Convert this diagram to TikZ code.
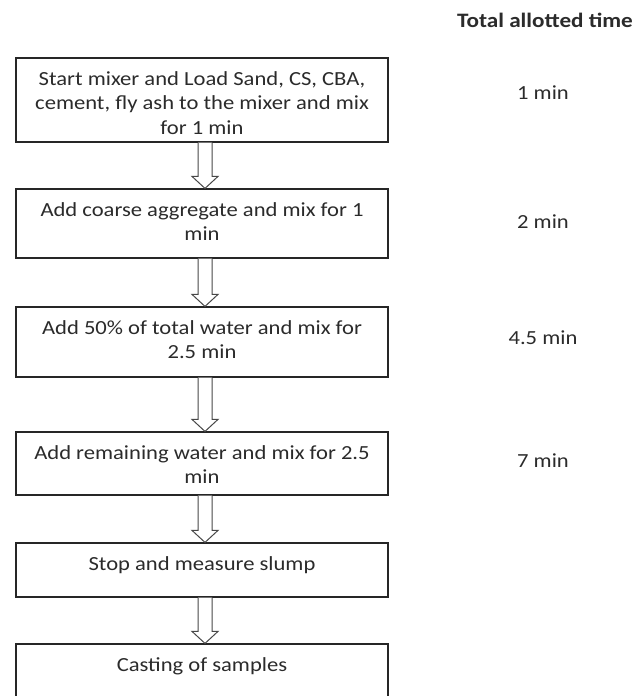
\documentclass[tikz,border=0pt]{standalone}
\usepackage{fontspec}
\setmainfont[FakeStretch=1.13]{Carlito}
\usetikzlibrary{calc,fit}
\definecolor{ink}{HTML}{2B2B2B}
\definecolor{edge}{HTML}{262626}
\tikzset{
  stepbox/.style={draw=edge, line width=1.2pt, inner sep=0pt},
  steptext/.style={anchor=north, align=center, inner sep=0pt, text=ink, font=\fontsize{20}{24.5}\selectfont},
  timetext/.style={anchor=center, inner sep=0pt, text=ink, font=\fontsize{20}{24}\selectfont},
  blockarrow/.style={draw=edge!85, line width=1pt, fill=white, line join=miter},
}
\newcommand{\flowarrow}[2]{%
  \draw[blockarrow] ($(#1.south)+(-4,0)$) -- ($(#2.north)+(-4,-12)$) -- ($(#2.north)+(-10,-12)$)
    -- ($(#2.north)+(3,0)$) -- ($(#2.north)+(16,-12)$) -- ($(#2.north)+(10,-12)$) -- ($(#1.south)+(10,0)$);%
}
\begin{document}
\begin{tikzpicture}[x=1pt,y=-1pt]
\useasboundingbox (0,0) rectangle (636,696);
\clip (0,0) rectangle (636,696);
\fill[white] (0,0) rectangle (636,696);

\node[stepbox, fit={(16,58) (388,142)}] (b1) {};
\node[stepbox, fit={(16,189) (388,258)}] (b2) {};
\node[stepbox, fit={(16,307) (388,377)}] (b3) {};
\node[stepbox, fit={(16,432) (388,495)}] (b4) {};
\node[stepbox, fit={(16,543) (388,597)}] (b5) {};
\node[stepbox, fit={(16,644) (388,700)}] (b6) {};

\node[steptext] (t1) at ($(b1.north)+(0,14)$) {Start mixer and Load Sand, CS, CBA,\\cement, fly ash to the mixer and mix\\for 1 min};
\node[steptext] (t2) at ($(b2.north)+(0,14)$) {Add coarse aggregate and mix for 1\\min};
\node[steptext] (t3) at ($(b3.north)+(0,14)$) {Add 50\% of total water and mix for\\2.5 min};
\node[steptext] (t4) at ($(b4.north)+(0,14)$) {Add remaining water and mix for 2.5\\min};
\node[steptext] (t5) at ($(b5.north)+(0,14)$) {Stop and measure slump};
\node[steptext] (t6) at ($(b6.north)+(0,14)$) {Casting of samples};

\node[timetext, font=\fontsize{20.5}{24}\selectfont\bfseries] (head) at (545,20) {Total allotted time};
\node[timetext] (m1) at (543,93) {1 min};
\node[timetext] (m2) at (543,222) {2 min};
\node[timetext] (m3) at (543,338) {4.5 min};
\node[timetext] (m4) at (543,461) {7 min};

\flowarrow{b1}{b2}
\flowarrow{b2}{b3}
\flowarrow{b3}{b4}
\flowarrow{b4}{b5}
\flowarrow{b5}{b6}
\end{tikzpicture}
\end{document}
